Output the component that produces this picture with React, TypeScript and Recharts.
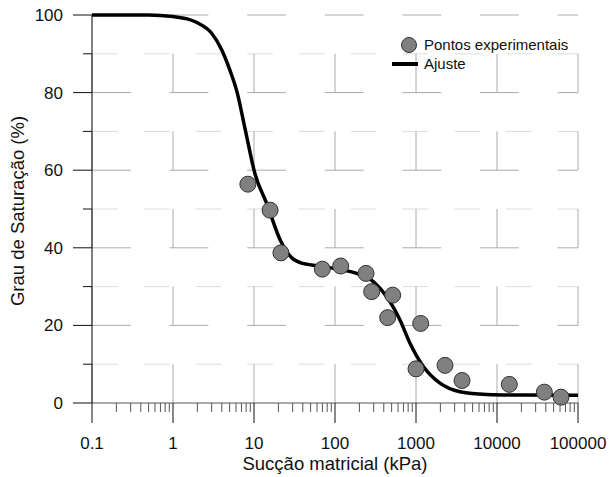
import { ComposedChart, Line, Scatter, XAxis, YAxis, CartesianGrid, Legend } from 'recharts'

// Experimental points: suction (kPa) vs degree of saturation (%)
const POINT_X = [8.4, 15.8, 21.5, 69.7, 117.5, 241.5, 283.7, 515, 447, 1143, 1000, 2281, 3700, 14190, 38400, 61700]
const POINT_Y = [56.4, 49.7, 38.7, 34.5, 35.3, 33.4, 28.7, 27.8, 22.0, 20.5, 8.8, 9.7, 5.8, 4.8, 2.8, 1.5]

// Fitted curve
const FIT_X = [0.1, 0.5, 1, 1.5, 2, 3, 4, 5, 6.2, 7.7, 10.3, 14.3, 21.5, 30, 37, 65, 95, 185, 297, 435, 634, 843, 1231, 1978, 3490, 7460, 20000, 100000]
const FIT_Y = [100, 100, 99.6, 99.0, 98.0, 95.3, 91, 86, 80, 71, 59, 51.5, 41.6, 37.2, 36.2, 35.3, 34.7, 33.4, 31.3, 27.4, 21.4, 15.4, 9.4, 5.1, 2.9, 2.2, 2.05, 2.0]

const MAJOR_X_TICKS = [0.1, 1, 10, 100, 1000, 10000, 100000]
const MAJOR_X_LABELS = ['0.1', '1', '10', '100', '1000', '10000', '100000']
const MINOR_STEPS = [2, 3, 4, 5, 6, 7, 8, 9]
const Y_TICKS = [0, 10, 20, 30, 40, 50, 60, 70, 80, 90, 100]
const Y_MAJOR = [20, 40, 60, 80, 100]
const Y_MINOR = [10, 30, 50, 70, 90]

const SERIES_POINTS = 'Pontos experimentais'
const SERIES_FIT = 'Ajuste'

const points = POINT_X.map((x, i) => ({ x, y: POINT_Y[i] }))
const fit = FIT_X.map((x, i) => ({ x, y: FIT_Y[i] }))
const minorTicks = MAJOR_X_TICKS.slice(0, -1).flatMap(d => MINOR_STEPS.map(m => m * d))
const xTicks = [...MAJOR_X_TICKS, ...minorTicks].sort((a, b) => a - b)

const W = 609
const H = 477
const PLOT = { left: 92, right: 578, top: 15, bottom: 403 }
const CELL = (PLOT.bottom - PLOT.top) / 10
const FONT = '"Liberation Sans", Arial, sans-serif'

function XTick(props: any) {
  const { x, payload } = props
  const idx = MAJOR_X_TICKS.findIndex(v => Math.abs(v - payload.value) < 1e-9)
  const major = idx >= 0
  return (
    <g>
      <line x1={x} x2={x} y1={PLOT.bottom} y2={PLOT.bottom + (major ? 20 : 9)} stroke={major ? '#111' : '#555'} strokeWidth={1} />
      {major && (
        <text x={x} y={448.5} textAnchor="middle" fontSize={17} fill="#111" fontFamily={FONT}>
          {MAJOR_X_LABELS[idx]}
        </text>
      )}
    </g>
  )
}

function YTick(props: any) {
  const { y, payload } = props
  const major = payload.value % 20 === 0
  return (
    <g>
      <line x1={PLOT.left - (major ? 19 : 9)} x2={PLOT.left} y1={y} y2={y} stroke="#111" strokeWidth={1} />
      {major && (
        <text x={63} y={y + 6} textAnchor="end" fontSize={17} fill="#111" fontFamily={FONT}>
          {payload.value}
        </text>
      )}
    </g>
  )
}

function LegendBox() {
  return (
    <svg width={200} height={46} style={{ display: 'block' }}>
      <circle cx={24} cy={12} r={7.5} fill="#808080" stroke="#333" strokeWidth={1} />
      <text x={39} y={17} fontSize={15} fill="#111" fontFamily={FONT}>{SERIES_POINTS}</text>
      <line x1={7} x2={33} y1={31} y2={31} stroke="#000" strokeWidth={4} />
      <text x={39} y={36} fontSize={15} fill="#111" fontFamily={FONT}>{SERIES_FIT}</text>
    </svg>
  )
}

export default function App() {
  return (
    <div style={{ position: 'absolute', left: 0, top: 0, width: W, height: H, background: '#fff', fontFamily: FONT }}>
      <ComposedChart width={W} height={H} margin={{ top: PLOT.top, right: W - PLOT.right, bottom: 0, left: 0 }}>
        {/* odd broken grid of the original: dashed segments one cell long */}
        <CartesianGrid vertical={false} horizontalValues={Y_MINOR} stroke="#dcdcdc" strokeDasharray={`${CELL * 2 / 3} ${CELL * 2 / 3}`} />
        <CartesianGrid vertical={false} horizontalValues={Y_MAJOR} stroke="#aaaaaa" strokeDasharray={`${CELL} ${CELL}`} />
        <CartesianGrid horizontal={false} verticalValues={MAJOR_X_TICKS} stroke="#aaaaaa" strokeDasharray={`0 ${CELL} ${CELL} 0`} />
        <XAxis
          dataKey="x"
          type="number"
          scale="log"
          domain={[0.1, 100000]}
          allowDataOverflow
          ticks={xTicks}
          interval={0}
          tick={<XTick />}
          tickLine={false}
          axisLine={{ stroke: '#555' }}
          height={H - PLOT.bottom}
          label={{ value: 'Sucção matricial (kPa)', position: 'insideBottom', offset: 7, fontSize: 18.5, fill: '#111' }}
        />
        <YAxis
          type="number"
          domain={[0, 100]}
          ticks={Y_TICKS}
          interval={0}
          tick={<YTick />}
          tickLine={false}
          axisLine={{ stroke: '#000' }}
          width={PLOT.left}
          label={{ value: 'Grau de Saturação (%)', angle: -90, position: 'insideLeft', offset: 0, dx: 17, dy: 2, fontSize: 18.5, fill: '#111', style: { textAnchor: 'middle' } }}
        />
        <Legend layout="vertical" align="center" verticalAlign="middle" wrapperStyle={{ left: 385, top: 33, width: 200 }} content={() => <LegendBox />} />
        <Scatter
          name={SERIES_POINTS}
          data={points}
          dataKey="y"
          isAnimationActive={false}
          shape={(p: any) => <circle cx={p.cx} cy={p.cy} r={8} fill="#808080" stroke="#333" strokeWidth={1} />}
        />
        <Line
          name={SERIES_FIT}
          data={fit}
          dataKey="y"
          type="monotone"
          stroke="#000"
          strokeWidth={3.5}
          dot={false}
          activeDot={false}
          isAnimationActive={false}
        />
      </ComposedChart>
    </div>
  )
}
